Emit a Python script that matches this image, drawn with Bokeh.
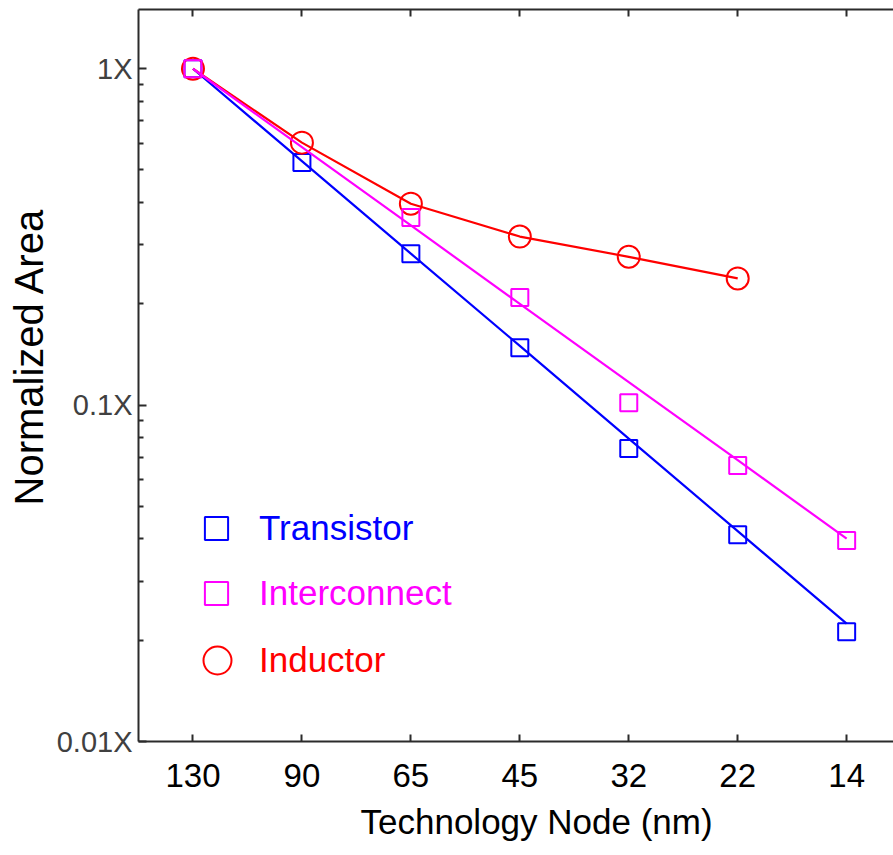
import math
from bokeh.plotting import figure
from bokeh.models import Range1d, FixedTicker, LinearAxis, Legend, LegendItem, ColumnDataSource, Title
from bokeh.embed import file_html
from bokeh.resources import INLINE

nan = float("nan")

# ---- data ----
nodes = ["130", "90", "65", "45", "32", "22", "14"]
transistor = [1.0, 0.526, 0.282, 0.148, 0.0743, 0.0412, 0.0212]
interconnect = [1.0, nan, 0.361, 0.209, 0.1017, 0.0661, 0.0396]
inductor = [1.0, 0.603, 0.397, 0.317, 0.276, 0.238, nan]
# trend lines drawn through / near the points
transistor_line = [1.0, 0.531, 0.282, 0.150, 0.0795, 0.0422, 0.0224]
interconnect_line = [1.0, 0.585, 0.342, 0.200, 0.117, 0.0686, 0.0401]
inductor_line = [1.0, 0.603, 0.397, 0.317, 0.276, 0.238, nan]

y_major = [0.01, 0.1, 1.0]
y_major_labels = ["0.01X", "0.1X", "1X"]

series_names = ["Transistor", "Interconnect", "Inductor"]
colors = ["#0000FF", "#FF00FF", "#FF0000"]
x_title = "Technology Node (nm)"
y_title = "Normalized Area"

xs = list(range(len(nodes)))
src = ColumnDataSource(dict(
    x=xs, t=transistor, i=interconnect, d=inductor,
    tl=transistor_line, il=interconnect_line, dl=inductor_line,
))

FONT = "Liberation Sans"
AXIS_COLOR = "#2b2b2b"

p = figure(width=893, height=855, y_axis_type="log",
           x_range=Range1d(-0.5, 6.43), y_range=Range1d(0.01, 1.5),
           output_backend="svg", toolbar_location=None,
           min_border_left=138, min_border_right=0, min_border_top=9, min_border_bottom=114)
p.outline_line_color = None
p.xgrid.visible = False
p.ygrid.visible = False
p.background_fill_color = "white"
p.border_fill_color = "white"

# bottom axis
xa = p.below[0]
xa.ticker = FixedTicker(ticks=xs)
xa.major_label_overrides = {i: n for i, n in zip(xs, nodes)}
xa.major_tick_in = 7
xa.major_tick_out = 0
xa.minor_tick_in = 0
xa.minor_tick_out = 0
xa.axis_line_width = 2
xa.axis_line_color = AXIS_COLOR
xa.major_tick_line_color = AXIS_COLOR
xa.major_tick_line_width = 2
xa.major_label_text_font = FONT
xa.major_label_text_font_size = "33px"
xa.major_label_text_color = "#000000"
xa.major_label_standoff = 22

# top axis: frame line with inward ticks only (ticks as minor ticks -> no labels)
ta = LinearAxis(ticker=FixedTicker(ticks=[], minor_ticks=xs),
                major_tick_in=0, major_tick_out=0, major_label_standoff=0,
                minor_tick_in=7, minor_tick_out=0, minor_tick_line_width=2,
                minor_tick_line_color=AXIS_COLOR,
                axis_line_width=2, axis_line_color=AXIS_COLOR)
p.add_layout(ta, "above")

# left axis
ya = p.left[0]
minor = [m * 10.0 ** e for e in (-2, -1) for m in range(2, 10)]
ya.ticker = FixedTicker(ticks=y_major, minor_ticks=minor)
ya.major_label_overrides = {v: s for v, s in zip(y_major, y_major_labels)}
ya.major_tick_in = 8
ya.major_tick_out = 0
ya.minor_tick_in = 5
ya.minor_tick_out = 0
ya.axis_line_width = 2
ya.axis_line_color = AXIS_COLOR
ya.major_tick_line_color = AXIS_COLOR
ya.major_tick_line_width = 2
ya.minor_tick_line_color = AXIS_COLOR
ya.minor_tick_line_width = 2
ya.major_label_text_font = FONT
ya.major_label_text_font_size = "29px"
ya.major_label_text_color = "#404040"
ya.major_label_standoff = 6

# axis titles as side titles (allow the small offsets seen in the reference)
p.add_layout(Title(text=x_title, align="left", offset=222, standoff=21,
                   text_font=FONT, text_font_size="35px", text_font_style="normal",
                   text_color="#000000"), "below")
p.add_layout(Title(text=y_title, align="left", offset=236, standoff=6,
                   text_font=FONT, text_font_size="40px", text_font_style="normal",
                   text_color="#000000"), "left")

# lines and markers
p.line("x", "tl", source=src, line_color=colors[0], line_width=2.2)
r_t = p.scatter("x", "t", source=src, marker="square", size=17, fill_color=None,
                line_color=colors[0], line_width=2)
p.line("x", "dl", source=src, line_color=colors[2], line_width=2.2)
r_d = p.scatter("x", "d", source=src, marker="circle", size=22, fill_color=None,
                line_color=colors[2], line_width=2)
p.line("x", "il", source=src, line_color=colors[1], line_width=2.2)
r_i = p.scatter("x", "i", source=src, marker="square", size=17, fill_color=None,
                line_color=colors[1], line_width=2)

# legends: one per series so each label gets its own colour
def make_legend(label, rend, color, loc, gsize, standoff):
    return Legend(items=[LegendItem(label=label, renderers=[rend])], location=loc,
                  glyph_width=gsize, glyph_height=gsize, label_standoff=standoff,
                  label_text_color=color, label_text_font=FONT, label_text_font_size="35px",
                  border_line_color=None, background_fill_alpha=0, padding=0, margin=0,
                  spacing=0)

p.add_layout(make_legend(series_names[0], r_t, colors[0], (49, 184), 58, 14))
p.add_layout(make_legend(series_names[1], r_i, colors[1], (49, 119), 58, 14))
p.add_layout(make_legend(series_names[2], r_d, colors[2], (44, 46), 70, 7))

open("out.html", "w").write(file_html(p, INLINE))
